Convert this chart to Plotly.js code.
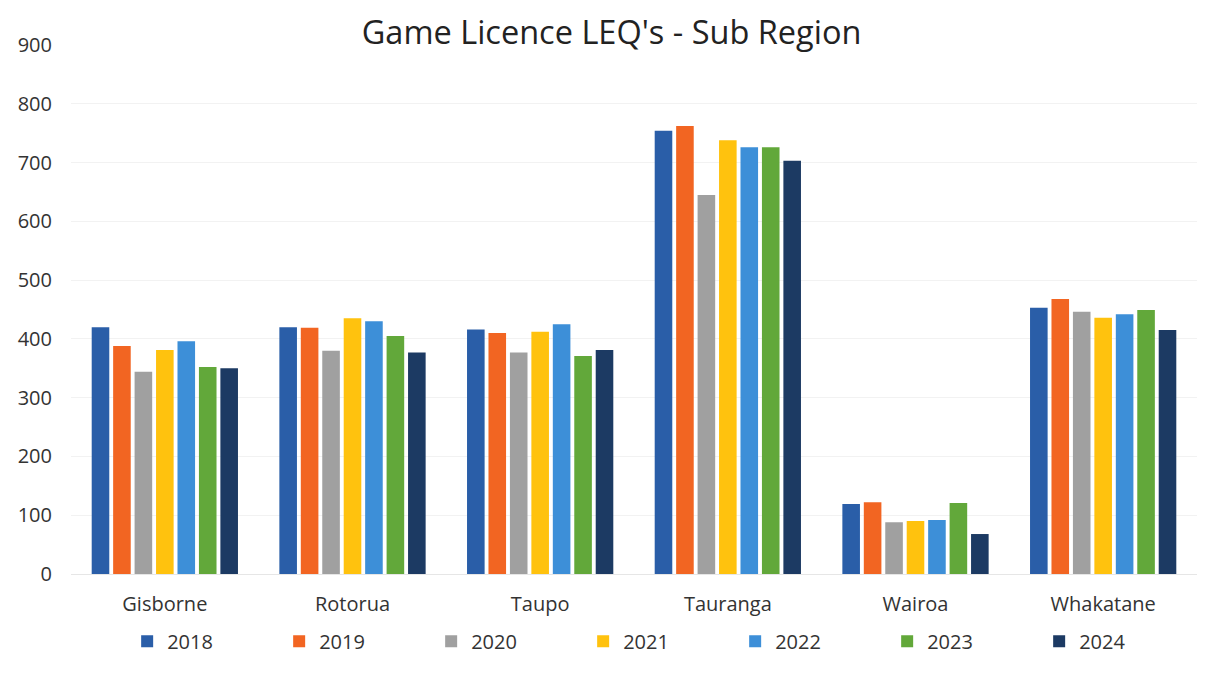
<!DOCTYPE html>
<html>
<head>
<meta charset="utf-8">
<script src="https://cdn.plot.ly/plotly-3.0.1.min.js"></script>
<style>html,body{margin:0;padding:0;background:#fff;}#chart{width:1211px;height:700px;}</style>
</head>
<body>
<div id="chart"></div>
<script>
const categories = ["Gisborne", "Rotorua", "Taupo", "Tauranga", "Wairoa", "Whakatane"];
const years = ["2018", "2019", "2020", "2021", "2022", "2023", "2024"];
const v2018 = [420, 420, 416, 754, 119, 453];
const v2019 = [388, 419, 410, 762, 122, 468];
const v2020 = [344, 380, 377, 645, 88, 446];
const v2021 = [381, 435, 412, 738, 90, 436];
const v2022 = [396, 430, 425, 726, 92, 442];
const v2023 = [352, 405, 371, 726, 121, 449];
const v2024 = [350, 377, 381, 703, 68, 415];
const seriesValues = [v2018, v2019, v2020, v2021, v2022, v2023, v2024];
const colors = ["#2a5ea8", "#f26522", "#a0a0a0", "#ffc20e", "#3d8fd8", "#62a83a", "#1c3a63"];

const traces = years.map((y, i) => ({
  type: "bar",
  name: y,
  x: categories,
  y: seriesValues[i],
  marker: {color: colors[i], line: {width: 0}},
  hoverinfo: "x+y+name"
}));

const layout = {
  width: 1211,
  height: 700,
  paper_bgcolor: "#ffffff",
  plot_bgcolor: "#ffffff",
  font: {family: "Open Sans, Noto Sans, sans-serif", color: "#333333", size: 19},
  title: {text: "Game Licence LEQ's - Sub Region", x: 0.505, xanchor: "center", y: 0.953, yanchor: "middle",
          font: {size: 32.5, color: "#222222", family: "Open Sans, Noto Sans, sans-serif"}},
  margin: {l: 71, r: 14, t: 45, b: 126},
  barmode: "group",
  bargap: 0.2,
  bargroupgap: 0.18,
  xaxis: {
    type: "category",
    showgrid: false,
    showline: true,
    linecolor: "#e6e6e6",
    linewidth: 1,
    ticks: "",
    tickfont: {size: 20, color: "#333333"},
    ticklabelstandoff: 12
  },
  yaxis: {
    range: [0, 900],
    dtick: 100,
    showgrid: true,
    gridcolor: "#f2f2f2",
    gridwidth: 1,
    zeroline: false,
    showline: false,
    ticks: "",
    tickfont: {size: 20, color: "#333333"},
    ticklabelstandoff: 18
  },
  showlegend: true,
  legend: {
    orientation: "h",
    xref: "container",
    yref: "container",
    x: 0.105,
    xanchor: "left",
    y: 0.084,
    yanchor: "middle",
    entrywidth: 107,
    entrywidthmode: "pixels",
    font: {size: 20, color: "#333333"},
    itemclick: false
  }
};

Plotly.newPlot("chart", traces, layout, {displayModeBar: false, staticPlot: true});
</script>
</body>
</html>
